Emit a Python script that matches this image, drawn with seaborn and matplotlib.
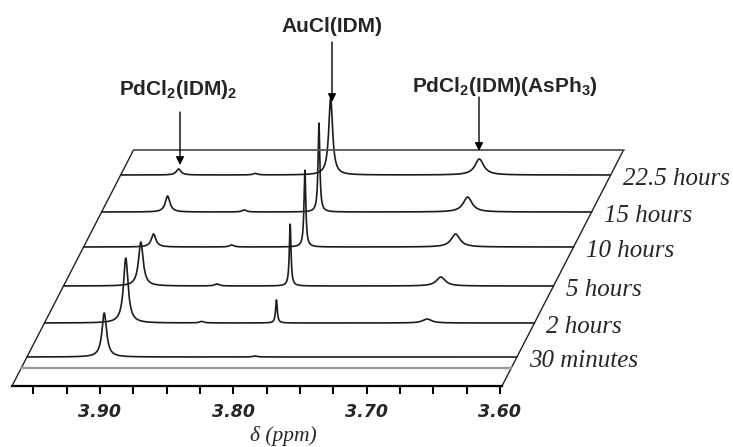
import numpy as np
import pandas as pd
import matplotlib
matplotlib.use("Agg")
import matplotlib.pyplot as plt
from matplotlib.ticker import FixedLocator
import seaborn as sns

# ---------------- data ----------------
time_labels = ["30 minutes", "2 hours", "5 hours", "10 hours", "15 hours", "22.5 hours"]

# PdCl2(IDM)2 signal
pd2_ppm = [3.908, 3.905, 3.908, 3.9135, 3.9165, 3.9225]
pd2_height = [44, 65, 44, 13, 16, 6]
pd2_fwhm = [0.0042, 0.0042, 0.0042, 0.0042, 0.0042, 0.0042]

# AuCl(IDM) signal
au_ppm = [3.790, 3.792, 3.796, 3.800, 3.803, 3.8085]
au_height = [0, 23, 62, 77, 89, 77]
au_fwhm = [0.0015, 0.0015, 0.0015, 0.0016, 0.0016, 0.0035]

# PdCl2(IDM)(AsPh3) signal
as_ppm = [3.675, 3.679, 3.683, 3.687, 3.6915, 3.697]
as_height = [0, 4, 9, 13, 15, 16]
as_fwhm = [0.008, 0.008, 0.008, 0.008, 0.008, 0.008]

# small impurity bump
minor_ppm = [3.795, 3.848, 3.851, 3.855, 3.859, 3.865]
minor_height = [1.0, 1.5, 2.0, 2.0, 2.0, 1.5]
minor_fwhm = [0.004, 0.004, 0.004, 0.004, 0.004, 0.004]

tick_values = [3.90, 3.80, 3.70, 3.60]
tick_labels = ["3.90", "3.80", "3.70", "3.60"]

# ---------------- layout ----------------
PX = 0.00075            # ppm per pixel along the axis
SLOPE = 0.515           # horizontal shift per unit of vertical offset (perspective)
def px2ppm(x):
    return 3.90 - (x - 100) * PX

AX_LEFT, AX_RIGHT = px2ppm(12), px2ppm(502)
offsets = [29, 63, 100, 139, 174, 211]
TOP = 236

sns.set_style("white")
plt.rcParams["mathtext.default"] = "regular"

fig = plt.figure(figsize=(7.33, 4.47), dpi=100)
ax = fig.add_axes([0, 0, 1, 1])


def lorentz(x, x0, h, w):
    return h / (1.0 + ((x - x0) / (w / 2.0)) ** 2)


grid = np.linspace(AX_LEFT, AX_RIGHT, 3000)
frames = []
for i, lab in enumerate(time_labels):
    y = (lorentz(grid, pd2_ppm[i], pd2_height[i], pd2_fwhm[i])
         + lorentz(grid, au_ppm[i], au_height[i], au_fwhm[i])
         + lorentz(grid, as_ppm[i], as_height[i], as_fwhm[i])
         + lorentz(grid, minor_ppm[i], minor_height[i], minor_fwhm[i]))
    shift = offsets[i] * SLOPE * PX
    frames.append(pd.DataFrame({"x": grid - shift, "y": y + offsets[i], "trace": lab}))
df = pd.concat(frames, ignore_index=True)

sns.lineplot(data=df, x="x", y="y", hue="trace", palette=["#1c1c1c"] * len(time_labels),
             estimator=None, sort=False, legend=False, lw=1.2, ax=ax)

ax.set_xlim(px2ppm(0), px2ppm(733))
ax.set_ylim(-61, 386)
ax.set_xlabel("")
ax.set_ylabel("")

# frame of the stacked plot
lt = AX_LEFT - TOP * SLOPE * PX
rt = AX_RIGHT - TOP * SLOPE * PX
ax.plot([AX_LEFT, lt], [0, TOP], color="#222222", lw=1.0)
ax.plot([AX_RIGHT, rt], [0, TOP], color="#222222", lw=1.0)
ax.plot([lt, rt], [TOP, TOP], color="#555555", lw=1.3)
g = 18
ax.plot([AX_LEFT - g * SLOPE * PX, AX_RIGHT - g * SLOPE * PX], [g, g], color="#9a9a9a", lw=1.6)

# axis
for s in ["top", "right", "left"]:
    ax.spines[s].set_visible(False)
ax.spines["bottom"].set_position(("data", 0))
ax.spines["bottom"].set_bounds(AX_RIGHT, AX_LEFT)
ax.spines["bottom"].set_linewidth(1.6)
ax.spines["bottom"].set_color("black")
ax.set_xticks(tick_values)
ax.set_xticklabels(tick_labels, family="DejaVu Sans", fontweight="bold",
                   fontstyle="italic", fontsize=12.5)
ax.xaxis.set_minor_locator(FixedLocator([3.95, 3.925, 3.875, 3.85, 3.825, 3.775, 3.75,
                                         3.725, 3.675, 3.65, 3.625]))
ax.tick_params(axis="x", which="both", direction="out", length=6, width=1.5,
               pad=6, color="black", bottom=True)
ax.set_yticks([])

ax.text(px2ppm(283), 386 - 446, "δ (ppm)", family="Liberation Serif", style="italic",
        fontsize=15.5, ha="center", va="bottom")

# time labels
for i, lab in enumerate(time_labels):
    x = AX_RIGHT - offsets[i] * SLOPE * PX - 12 * PX
    ax.text(x, offsets[i] - 10, lab, family="Liberation Serif", style="italic",
            fontsize=18, ha="left", va="baseline")

# compound annotations
annots = [("PdCl$_2$(IDM)$_2$", 178, 95, 180, 112, 165),
          ("AuCl(IDM)", 332, 32, 332, 42, 102),
          ("PdCl$_2$(IDM)(AsPh$_3$)", 505, 92, 479, 97, 151)]
for txt, tx, ty, axx, y0, y1 in annots:
    ax.text(px2ppm(tx), 386 - ty, txt, family="Liberation Sans", fontweight="bold",
            fontsize=15, ha="center", va="baseline")
    ax.annotate("", xy=(px2ppm(axx), 386 - y1), xytext=(px2ppm(axx), 386 - y0),
                arrowprops=dict(arrowstyle="-|>", color="black", lw=1.0,
                                mutation_scale=12, shrinkA=0, shrinkB=0))

fig.savefig("out.png", dpi=100)
